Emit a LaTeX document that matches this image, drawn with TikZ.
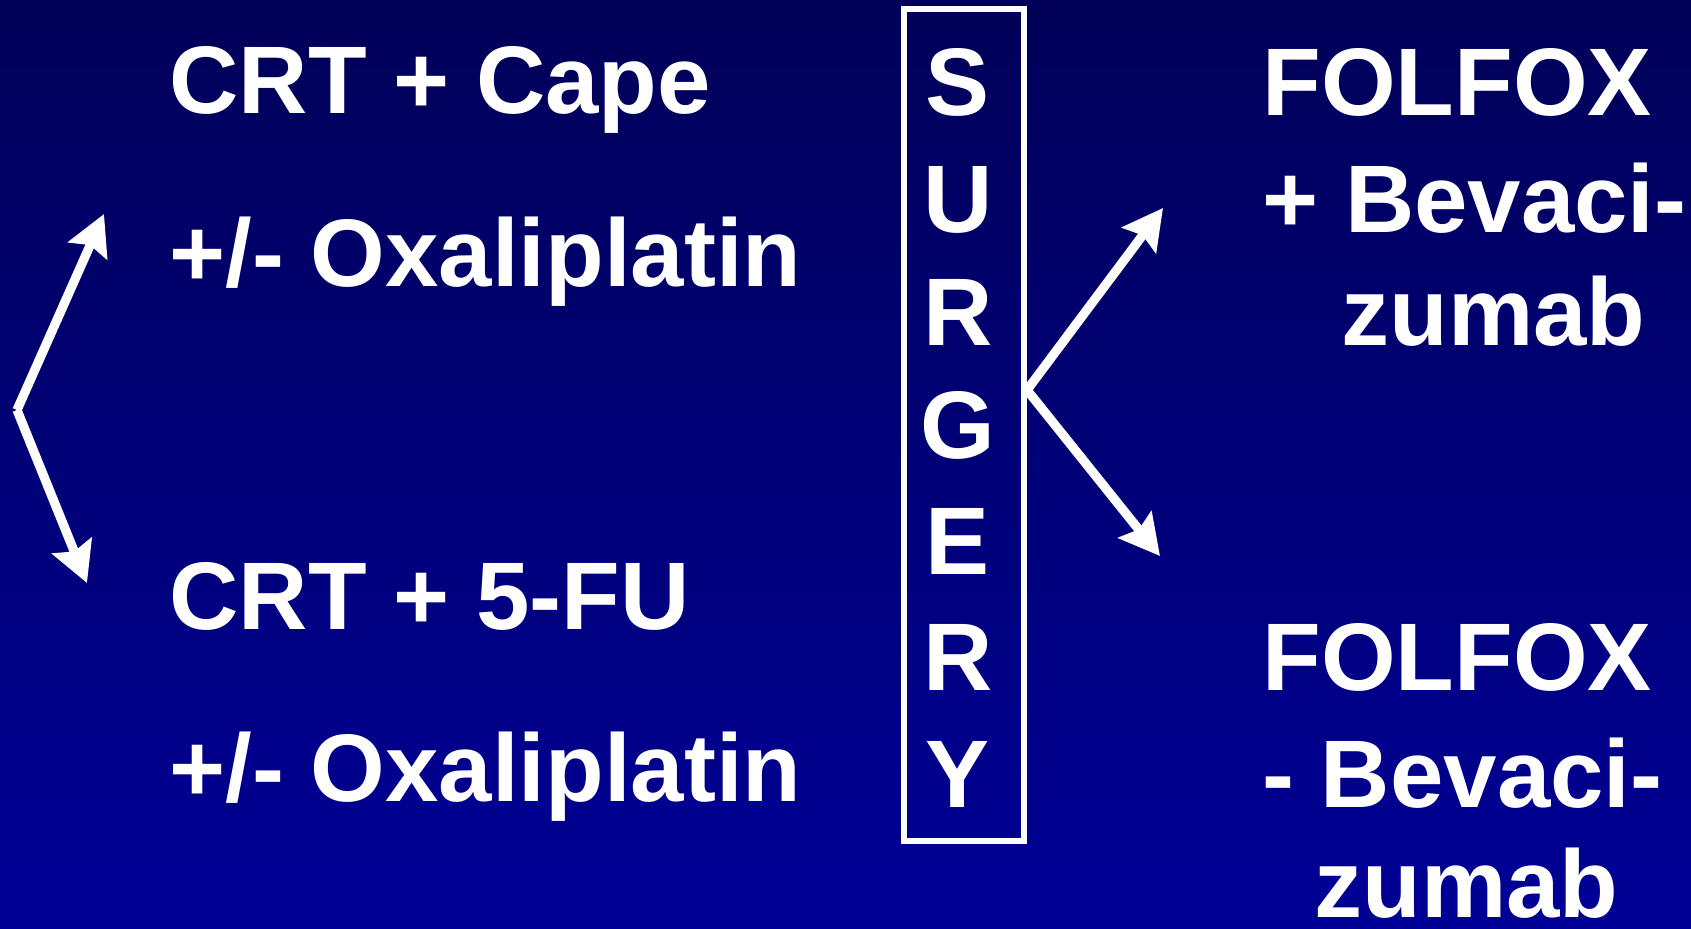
\documentclass[tikz,border=0pt]{standalone}
\usepackage{fontspec}
\setmainfont{Liberation Sans}
\usetikzlibrary{arrows.meta}
\definecolor{bgtop}{RGB}{0,0,88}
\definecolor{bgbot}{RGB}{0,0,150}
\begin{document}
\begin{tikzpicture}[x=0.5pt,y=-0.5pt,
  txt/.style={anchor=base west,inner sep=0pt,text=white,font=\fontsize{48}{58}\selectfont\bfseries},
  letter/.style={anchor=base,inner sep=0pt,text=white,font=\fontsize{48}{58}\selectfont\bfseries},
  arr/.style={draw=white,line width=4.6pt,-{Stealth[length=20pt,width=21pt,inset=3pt]}},
  box/.style={draw=white,line width=2.8pt}]
\shade[top color=bgtop,bottom color=bgbot] (0,0) rectangle (1691,928);
\useasboundingbox (0,0) rectangle (1691,928);
% left texts
\node[txt] (t1) at (169,113) {CRT + Cape};
\node[txt] (t2) at (169,286) {+/- Oxaliplatin};
\node[txt] (t3) at (169,629) {CRT + 5-FU};
\node[txt] (t4) at (169,801) {+/- Oxaliplatin};
% right texts
\node[txt] (r1) at (1262,115) {FOLFOX};
\node[txt] (r2) at (1262,232) {+ Bevaci-};
\node[txt] (r3) at (1341,345) {zumab};
\node[txt] (r4) at (1262,690) {FOLFOX};
\node[txt] (r5) at (1262,807) {- Bevaci-};
\node[txt] (r6) at (1314,917) {zumab};
% surgery box
\draw[box] (904,9) rectangle (1024,841);
\coordinate (boxE) at (1027,390);
\node[letter] (s1) at (958,115) {S};
\node[letter] (s2) at (958,232) {U};
\node[letter] (s3) at (958,345) {R};
\node[letter] (s4) at (958,458) {G};
\node[letter] (s5) at (958,574) {E};
\node[letter] (s6) at (958,690) {R};
\node[letter] (s7) at (958,807) {Y};
% left arrows
\coordinate (lv) at (17,410);
\coordinate (lu) at (104,214);
\coordinate (ld) at (87,583);
\draw[arr] (lv) -- (lu);
\draw[arr] (lv) -- (ld);
% right arrows
\coordinate (ru) at (1163,208);
\coordinate (rd) at (1160,556);
\draw[arr] (boxE) -- (ru);
\draw[arr] (boxE) -- (rd);
\end{tikzpicture}
\end{document}
